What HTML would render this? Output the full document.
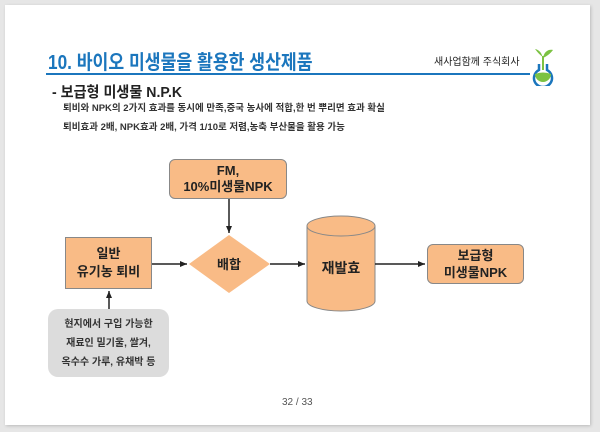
<!DOCTYPE html>
<html><head><meta charset="utf-8"><style>
body{margin:0;width:600px;height:432px;background:#e6e6e6;position:relative;overflow:hidden;font-family:"Liberation Sans","Noto Sans CJK KR",sans-serif;}
.slide{position:absolute;left:5px;top:5px;width:585px;height:420px;background:#fff;box-shadow:1px 1px 3px #bbb;}
.t{position:absolute;white-space:nowrap;transform-origin:0 0;}
.box{position:absolute;background:#f9bb86;border:1px solid #888;display:flex;align-items:center;justify-content:center;text-align:center;font-weight:bold;color:#222;box-sizing:border-box;}
</style></head><body>
<div class="slide"></div>
<div class="t" style="left:48px;top:46px;font-size:20px;font-weight:bold;color:#1b76bd;transform:scaleX(0.86);">10. 바이오 미생물을 활용한 생산제품</div>
<div style="position:absolute;left:46px;top:73px;width:484px;height:2px;background:#1b76bd"></div>
<div class="t" style="left:434px;top:53px;font-size:10px;color:#222;">새사업함께 주식회사</div>
<svg style="position:absolute;left:530px;top:44px" width="26" height="42" viewBox="0 0 26 42">
<path d="M13 18 C13 10 10 6 5 5 C8 9 10 11 13 13" fill="#7cc242"/>
<path d="M13 14 C14 8 18 5 23 6 C20 10 17 12 13 14" fill="#7cc242"/>
<line x1="13" y1="12" x2="13" y2="26" stroke="#7cc242" stroke-width="2"/>
<path d="M9 20 V26 A9 9 0 1 0 17 26 V20" fill="none" stroke="#1b76bd" stroke-width="2.5"/>
<path d="M5 30 Q13 27 21 30 A8 8 0 0 1 5 30Z" fill="#7cc242"/>
</svg>
<div class="t" style="left:52px;top:81px;font-size:15px;font-weight:bold;color:#222;transform:scaleX(0.94);">- 보급형 미생물 N.P.K</div>
<div class="t" style="left:63px;top:100px;font-size:9.5px;font-weight:bold;color:#333;">퇴비와 NPK의 2가지 효과를 동시에 만족,중국 농사에 적합,한 번 뿌리면 효과 확실</div>
<div class="t" style="left:63px;top:119px;font-size:9.5px;font-weight:bold;color:#333;">퇴비효과 2배, NPK효과 2배, 가격 1/10로 저렴,농축 부산물을 활용 가능</div>

<div class="box" style="left:169px;top:159px;width:118px;height:40px;border-radius:6px;font-size:13px;line-height:16px;">FM,<br>10%미생물NPK</div>
<div class="box" style="left:65px;top:237px;width:87px;height:52px;font-size:13px;line-height:18px;">일반<br>유기농 퇴비</div>
<div class="box" style="left:427px;top:244px;width:97px;height:40px;border-radius:6px;font-size:13px;line-height:17px;">보급형<br>미생물NPK</div>
<div class="box" style="left:48px;top:309px;width:121px;height:68px;border-radius:10px;background:#dcdcdc;border:none;font-size:10px;line-height:19px;color:#333;">현지에서 구입 가능한<br>재료인 밀기울, 쌀겨,<br>옥수수 가루, 유채박 등</div>

<svg style="position:absolute;left:0;top:0" width="600" height="432">
<defs><marker id="a" markerWidth="8" markerHeight="8" refX="7" refY="4" orient="auto" markerUnits="userSpaceOnUse"><path d="M0 1 L7 4 L0 7Z" fill="#222"/></marker></defs>
<polygon points="229,235 270,264 229,293 189,264" fill="#f9bb86"/>
<text x="229" y="269" text-anchor="middle" font-size="13" font-weight="bold" fill="#222" font-family="Liberation Sans, Noto Sans CJK KR, sans-serif">배합</text>
<path d="M307 226 V301 A34 10 0 0 0 375 301 V226" fill="#f9bb86" stroke="#888"/>
<ellipse cx="341" cy="226" rx="34" ry="10" fill="#f9bb86" stroke="#888"/>
<text x="341" y="273" text-anchor="middle" font-size="14" font-weight="bold" fill="#222" font-family="Liberation Sans, Noto Sans CJK KR, sans-serif">재발효</text>
<g stroke="#222" stroke-width="1.5" fill="none">
<line x1="229" y1="199" x2="229" y2="233" marker-end="url(#a)"/>
<line x1="152" y1="264" x2="187" y2="264" marker-end="url(#a)"/>
<line x1="270" y1="264" x2="305" y2="264" marker-end="url(#a)"/>
<line x1="375" y1="264" x2="425" y2="264" marker-end="url(#a)"/>
<line x1="109" y1="309" x2="109" y2="291" marker-end="url(#a)"/>
</g>
</svg>
<div class="t" style="left:282px;top:397px;font-size:10px;color:#555;">32 / 33</div>
</body></html>
